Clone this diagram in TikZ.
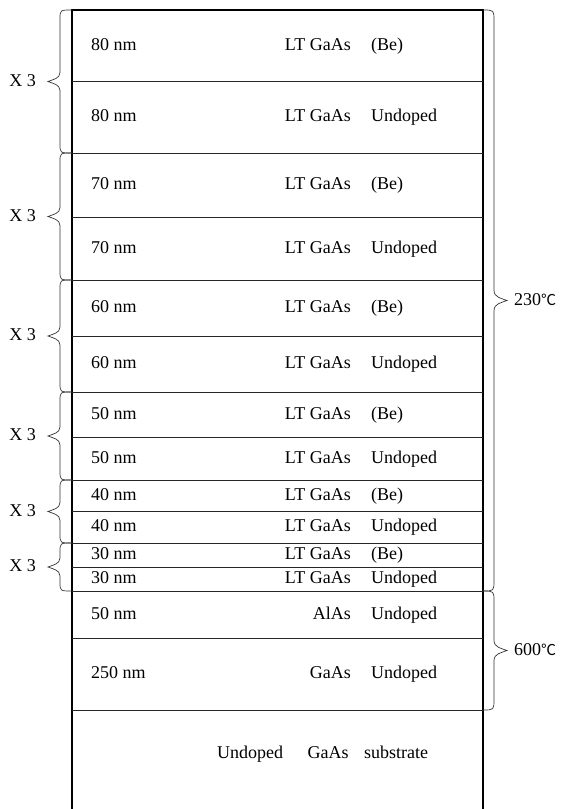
\documentclass[tikz,border=0pt]{standalone}
\usepackage{fontspec}
\setmainfont{Liberation Serif}
\newfontfamily\cjk{Noto Sans CJK SC}
\begin{document}
\begin{tikzpicture}[x=1pt,y=-1pt,
  lbl/.style={font=\fontsize{18}{20}\selectfont, inner sep=0pt, text height=13pt, text depth=4pt},
  sep/.style={line width=0.9pt, black!85},
  wall/.style={line width=1.1pt},
  brc/.style={line width=0.7pt, black!80},
]
\useasboundingbox (0,0) rectangle (562,809);
\newcommand\Layer[6]{%
  \draw[sep] (72,#3) -- (483,#3);
  \node[lbl, anchor=west] (t#1) at (91,{(#2+#3)/2}) {#4};
  \node[lbl, anchor=east] (m#1) at (351,{(#2+#3)/2}) {#5};
  \node[lbl, anchor=west] (d#1) at (371,{(#2+#3)/2}) {#6};
}
\newcommand\BraceL[3]{% x of ends, ytop, ybot
  \draw[brc] (#1,#2) .. controls ({#1-12},#2) .. ({#1-12},{#2+9})
    -- ({#1-12},{(#2+#3)/2-9}) .. controls ({#1-12},{(#2+#3)/2-3}) and ({#1-19},{(#2+#3)/2-2}) .. ({#1-24},{(#2+#3)/2})
    .. controls ({#1-19},{(#2+#3)/2+2}) and ({#1-12},{(#2+#3)/2+3}) .. ({#1-12},{(#2+#3)/2+9})
    -- ({#1-12},{#3-9}) .. controls ({#1-12},#3) .. (#1,#3);}
\newcommand\BraceR[3]{%
  \draw[brc] (#1,#2) .. controls ({#1+11},#2) .. ({#1+11},{#2+11})
    -- ({#1+11},{(#2+#3)/2-10}) .. controls ({#1+11},{(#2+#3)/2-3}) and ({#1+19},{(#2+#3)/2-2}) .. ({#1+24},{(#2+#3)/2})
    .. controls ({#1+19},{(#2+#3)/2+2}) and ({#1+11},{(#2+#3)/2+3}) .. ({#1+11},{(#2+#3)/2+10})
    -- ({#1+11},{#3-11}) .. controls ({#1+11},#3) .. (#1,#3);}
% walls
\draw[wall] (72,809) -- (72,10) -- (483,10) -- (483,809);
% layers
\Layer{1}{10}{81}{80 nm}{LT GaAs}{(Be)}
\Layer{2}{81}{153}{80 nm}{LT GaAs}{Undoped}
\Layer{3}{153}{217}{70 nm}{LT GaAs}{(Be)}
\Layer{4}{217}{280}{70 nm}{LT GaAs}{Undoped}
\Layer{5}{280}{336}{60 nm}{LT GaAs}{(Be)}
\Layer{6}{336}{392}{60 nm}{LT GaAs}{Undoped}
\Layer{7}{392}{437}{50 nm}{LT GaAs}{(Be)}
\Layer{8}{437}{480}{50 nm}{LT GaAs}{Undoped}
\Layer{9}{480}{511}{40 nm}{LT GaAs}{(Be)}
\Layer{10}{511}{543}{40 nm}{LT GaAs}{Undoped}
\Layer{11}{543}{567}{30 nm}{LT GaAs}{(Be)}
\Layer{12}{567}{591}{30 nm}{LT GaAs}{Undoped}
\Layer{13}{591}{638}{50 nm}{AlAs}{Undoped}
\Layer{14}{638}{710}{250 nm}{GaAs}{Undoped}
\node[lbl, anchor=west] (sub) at (217,754) {Undoped\hspace{24.5pt}GaAs\hspace{15.5pt}substrate};
% left braces (repeat counts)
\BraceL{72}{10}{153}
\BraceL{72}{153}{280}
\BraceL{72}{280}{392}
\BraceL{72}{392}{480}
\BraceL{72}{480}{543}
\BraceL{72}{543}{591}
\node[lbl, anchor=east] (x1) at (36,81.5) {X 3};
\node[lbl, anchor=east] (x2) at (36,216.5) {X 3};
\node[lbl, anchor=east] (x3) at (36,336) {X 3};
\node[lbl, anchor=east] (x4) at (36,436) {X 3};
\node[lbl, anchor=east] (x5) at (36,511.5) {X 3};
\node[lbl, anchor=east] (x6) at (36,567) {X 3};
% right braces (temperatures)
\BraceR{483}{10}{591}
\BraceR{483}{591}{710}
\node[lbl, anchor=west] (T1) at (514,300.5) {230{\cjk\fontsize{15}{16}\selectfont ℃}};
\node[lbl, anchor=west] (T2) at (514,650.5) {600{\cjk\fontsize{15}{16}\selectfont ℃}};
\end{tikzpicture}
\end{document}
